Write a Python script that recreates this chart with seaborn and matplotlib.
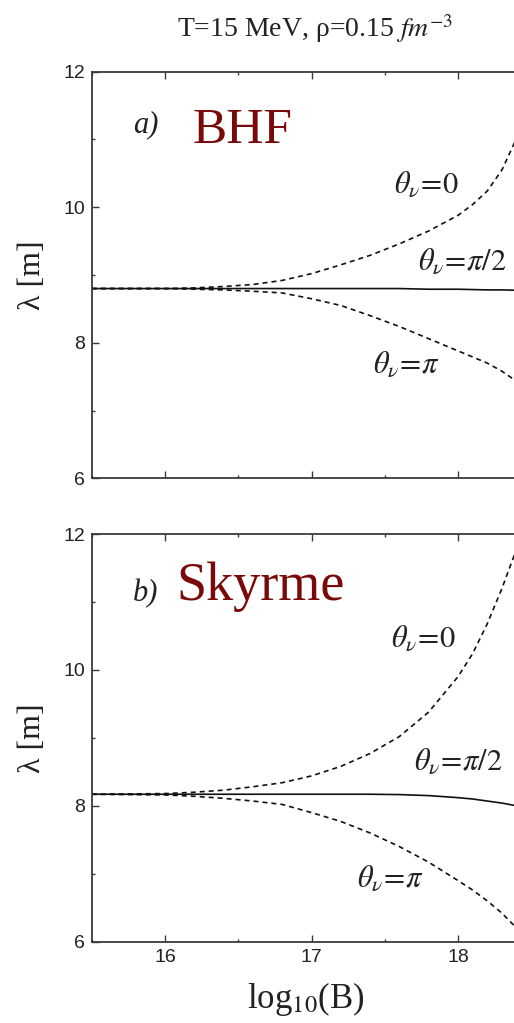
import numpy as np
import pandas as pd
import matplotlib
matplotlib.use("Agg")
import matplotlib.pyplot as plt
from matplotlib.ticker import MultipleLocator
import seaborn as sns

# log10(B) sample points shared by every curve
log_b = [15.5, 16.0, 16.2, 16.4, 16.6, 16.8, 17.0, 17.2, 17.4, 17.6, 17.8, 18.0, 18.1, 18.2, 18.3, 18.4]

# panel a) BHF : lambda [m] for the three neutrino angles
bhf_theta0 = [8.80, 8.80, 8.81, 8.83, 8.86, 8.92, 9.02, 9.15, 9.29, 9.46, 9.65, 9.88, 10.04, 10.24, 10.55, 11.02]
bhf_theta_half = [8.80, 8.80, 8.80, 8.80, 8.80, 8.80, 8.80, 8.80, 8.80, 8.80, 8.79, 8.79, 8.785, 8.78, 8.78, 8.775]
bhf_theta_pi = [8.80, 8.80, 8.79, 8.78, 8.76, 8.735, 8.65, 8.55, 8.40, 8.24, 8.06, 7.88, 7.79, 7.70, 7.58, 7.43]

# panel b) Skyrme
sky_theta0 = [8.17, 8.18, 8.20, 8.23, 8.28, 8.34, 8.44, 8.58, 8.77, 9.02, 9.38, 9.90, 10.24, 10.68, 11.20, 11.78]
sky_theta_half = [8.17, 8.17, 8.17, 8.17, 8.17, 8.17, 8.17, 8.17, 8.17, 8.165, 8.15, 8.12, 8.10, 8.07, 8.04, 8.00]
sky_theta_pi = [8.17, 8.16, 8.14, 8.11, 8.07, 8.02, 7.90, 7.77, 7.60, 7.40, 7.17, 6.90, 6.76, 6.60, 6.42, 6.20]

angles = ["0", "pi/2", "pi"]
panel_tags = ["a)", "b)"]
panel_names = ["BHF", "Skyrme"]
title = r"T=15 MeV, ρ=0.15 $\mathit{fm}^{\mathit{-3}}$"
angle_labels = [r"$\theta_\nu\!=\!0$", r"$\theta_\nu\!=\!\pi/2$", r"$\theta_\nu\!=\!\pi$"]


def long_frame(curves):
    rows = []
    for ang, vals in zip(angles, curves):
        for x, y in zip(log_b, vals):
            rows.append({"logB": x, "lam": y, "angle": ang})
    return pd.DataFrame(rows)


frames = [
    long_frame([bhf_theta0, bhf_theta_half, bhf_theta_pi]),
    long_frame([sky_theta0, sky_theta_half, sky_theta_pi]),
]

sns.set_theme(style="ticks")
plt.rcParams["font.family"] = ["Liberation Serif", "DejaVu Serif"]
plt.rcParams["mathtext.fontset"] = "stix"

W, H = 514, 1023
fig = plt.figure(figsize=(W / 100, H / 100), dpi=100)

left = 91.75 / W
width = 439.5 / W
axes_px = [(71.7, 478.3), (534.0, 941.7)]

# label anchor points (data coords) for the angle annotations
label_pos = [
    [(17.56, 10.21), (17.73, 9.08), (17.42, 7.55)],
    [(17.54, 10.34), (17.70, 8.53), (17.31, 6.81)],
]
tag_pos = [(0.094, 0.852), (0.094, 0.834)]
name_pos = [(0.230, 0.825), (0.192, 0.838)]
name_size = [37, 39]

dash_map = {"0": (3, 2.4), "pi/2": "", "pi": (3, 2.4)}
spine_col = "#3a3a3a"

for i, df in enumerate(frames):
    top, bot = axes_px[i]
    ax = fig.add_axes([left, 1 - bot / H, width, (bot - top) / H])
    sns.lineplot(data=df, x="logB", y="lam", style="angle", dashes=dash_map,
                 color="#111111", linewidth=1.2, legend=False, ax=ax,
                 estimator=None, sort=False)
    ax.set_xlim(15.5, 18.5)
    ax.set_ylim(6, 12)
    ax.xaxis.set_major_locator(MultipleLocator(1))
    ax.xaxis.set_minor_locator(MultipleLocator(0.5))
    ax.yaxis.set_major_locator(MultipleLocator(2))
    ax.yaxis.set_minor_locator(MultipleLocator(1))
    ax.tick_params(which="both", direction="in", top=True, right=True,
                   color=spine_col, width=1.0)
    ax.tick_params(which="major", length=5)
    ax.tick_params(which="minor", length=2.5)
    ax.tick_params(axis="both", labelsize=14, labelcolor="#222222", pad=5)
    for lab in ax.get_xticklabels() + ax.get_yticklabels():
        lab.set_fontfamily("Liberation Sans")
    for s in ax.spines.values():
        s.set_color(spine_col)
        s.set_linewidth(1.3)
    ax.set_xlabel("")
    ax.set_ylabel("")
    if i == 0:
        ax.tick_params(axis="x", labelbottom=False)

    ax.text(*tag_pos[i], panel_tags[i], transform=ax.transAxes, fontsize=22,
            style="italic", va="baseline", ha="left", color="#222222")
    ax.text(*name_pos[i], panel_names[i], transform=ax.transAxes,
            fontsize=name_size[i], va="baseline", ha="left", color="#7a0a0a")
    for (lx, ly), txt in zip(label_pos[i], angle_labels):
        ax.text(lx, ly, txt, fontsize=22, va="baseline", ha="left", color="#222222")

    fig.text(32 / W, 1 - (top + bot) / 2 / H, "λ [m]", rotation=90,
             fontsize=23, ha="center", va="center", color="#222222")

fig.text(315 / W, 1 - 37 / H, title, fontsize=20, ha="center", va="baseline",
         color="#222222")
fig.text(306 / W, 1 - 1008 / H, r"log$_{10}$(B)", fontsize=25, ha="center",
         va="baseline", color="#222222")

fig.savefig("out.png", dpi=100, facecolor="white")
